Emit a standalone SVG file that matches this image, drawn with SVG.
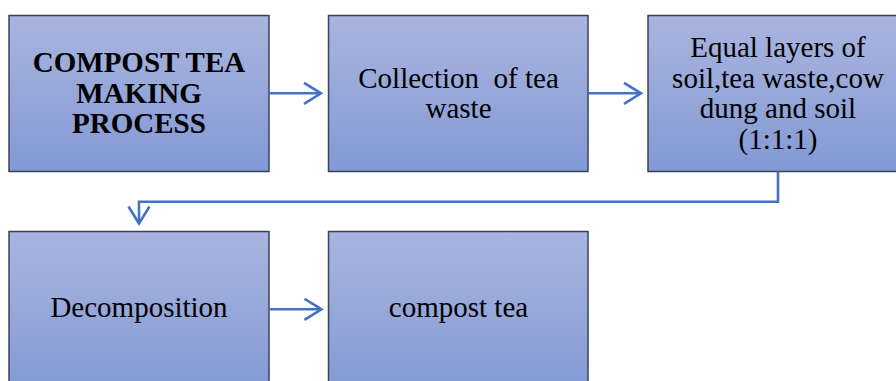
<svg xmlns="http://www.w3.org/2000/svg" width="896" height="381" viewBox="0 0 896 381">
  <defs>
    <linearGradient id="boxFill" x1="0" y1="0" x2="0" y2="1">
      <stop offset="0" stop-color="#a9b5df"/>
      <stop offset="1" stop-color="#8399d4"/>
    </linearGradient>
    <marker id="chev" viewBox="0 0 20 24" refX="18" refY="12" markerWidth="20" markerHeight="24" markerUnits="userSpaceOnUse" orient="auto">
      <path d="M1,1.5 L18,12 L1,22.5" fill="none" stroke="#4472c4" stroke-width="2.6"/>
    </marker>
    <style>
      .box { fill: url(#boxFill); stroke: #3b4455; stroke-width: 1.5; }
      .lbl { font-family: "Liberation Serif", "Times New Roman", serif; font-size: 29px; fill: #000; text-anchor: middle; }
      .bold { font-weight: bold; }
      .conn { fill: none; stroke: #4472c4; stroke-width: 2.6; marker-end: url(#chev); }
    </style>
  </defs>
  <rect width="896" height="381" fill="#fff"/>

  <g id="node-title">
    <rect class="box" x="9" y="15.5" width="260" height="156"/>
    <text class="lbl bold" x="139" y="72">COMPOST TEA</text>
    <text class="lbl bold" x="139" y="102.5">MAKING</text>
    <text class="lbl bold" x="139" y="133">PROCESS</text>
  </g>

  <g id="node-collection">
    <rect class="box" x="328.5" y="15.5" width="259.5" height="156"/>
    <text class="lbl" x="458.5" y="87.5" xml:space="preserve">Collection  of tea</text>
    <text class="lbl" x="458.5" y="118">waste</text>
  </g>

  <g id="node-layers">
    <rect class="box" x="648" y="15.5" width="260" height="156"/>
    <text class="lbl" x="778" y="56.5">Equal layers of</text>
    <text class="lbl" x="778" y="87.5">soil,tea waste,cow</text>
    <text class="lbl" x="778" y="118">dung and soil</text>
    <text class="lbl" x="778" y="149">(1:1:1)</text>
  </g>

  <g id="node-decomposition">
    <rect class="box" x="9" y="231.5" width="260" height="160"/>
    <text class="lbl" x="139" y="317">Decomposition</text>
  </g>

  <g id="node-compost-tea">
    <rect class="box" x="328.5" y="231.5" width="259.5" height="160"/>
    <text class="lbl" x="458.5" y="317">compost tea</text>
  </g>

  <g id="connectors">
    <path class="conn" d="M269,93.3 L321,93.3"/>
    <path class="conn" d="M588,93.3 L641,93.3"/>
    <path class="conn" d="M778,171.5 L778,201.8 L139,201.8 L139,223.5"/>
    <path class="conn" d="M269,309.3 L321.5,309.3"/>
  </g>
</svg>
